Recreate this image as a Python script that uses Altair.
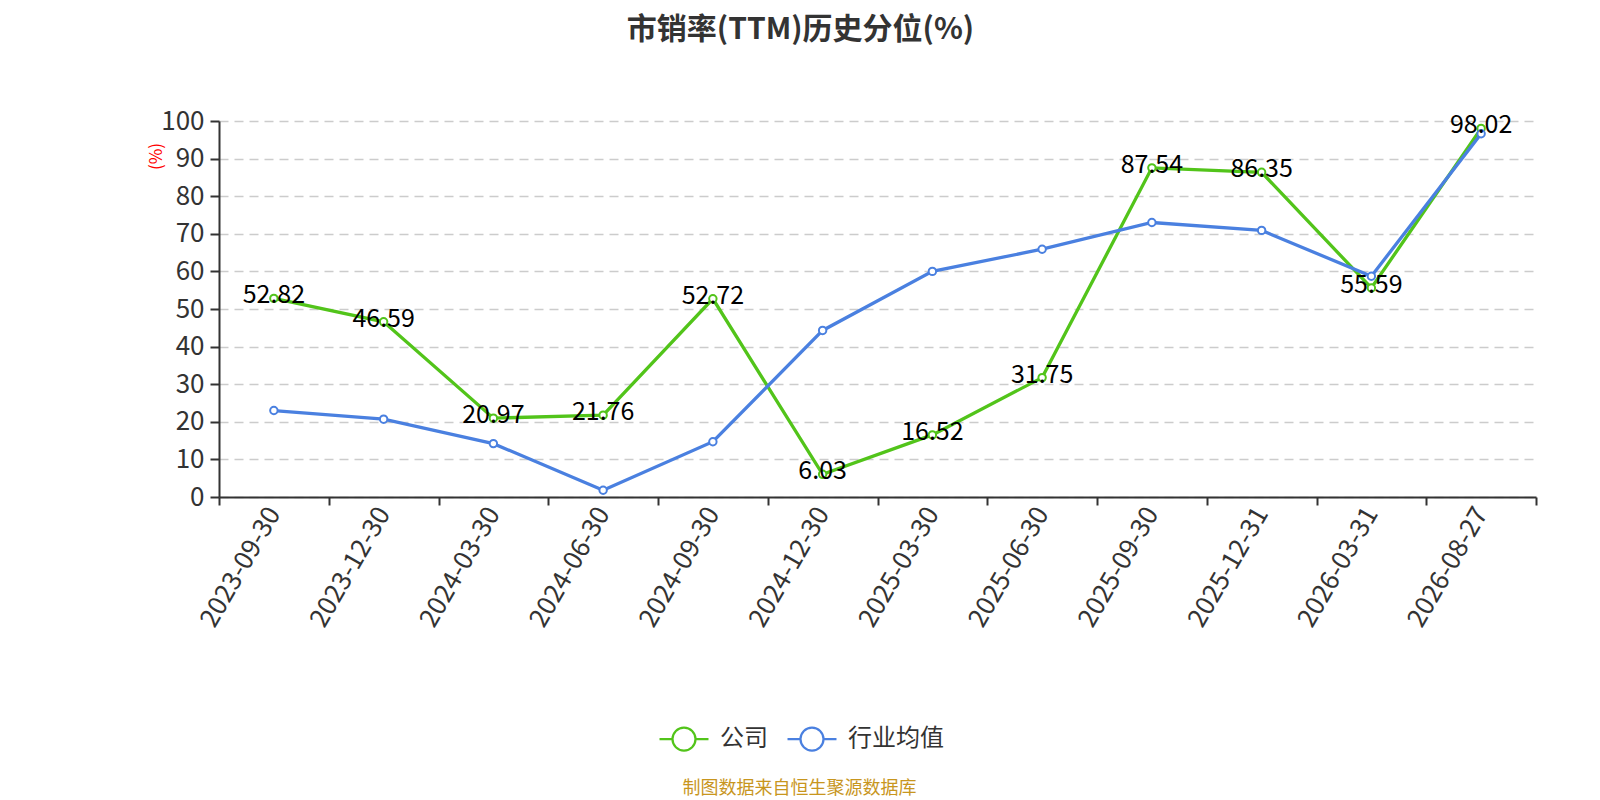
import altair as alt
import pandas as pd

dates = ["2023-09-30", "2023-12-30", "2024-03-30", "2024-06-30", "2024-09-30", "2024-12-30",
         "2025-03-30", "2025-06-30", "2025-09-30", "2025-12-31", "2026-03-31", "2026-08-27"]
company = [52.82, 46.59, 20.97, 21.76, 52.72, 6.03, 16.52, 31.75, 87.54, 86.35, 55.59, 98.02]
industry = [23.0, 20.7, 14.2, 1.8, 14.7, 44.3, 60.0, 65.9, 73.0, 70.9, 58.7, 96.6]
series_names = ["公司", "行业均值"]
colors = ["#52c41a", "#4a80e0"]

rows = []
for d, c, i in zip(dates, company, industry):
    rows.append({"date": d, "series": series_names[0], "value": c})
    rows.append({"date": d, "series": series_names[1], "value": i})
df = pd.DataFrame(rows)

FONT = "Noto Sans CJK SC"
W, H = 1317, 376

x = alt.X("date:O", sort=dates, bandPosition=0.5,
          scale=alt.Scale(type="band", paddingInner=0, paddingOuter=0),
          axis=alt.Axis(title="制图数据来自恒生聚源数据库", titleColor="#c8961e", titleFontSize=18,
                        titleFontWeight="normal", titleY=291, titleX=580, titleAlign="center",
                        titleBaseline="middle",
                        labelAngle=-60, labelFontSize=26, labelColor="#333333", labelAlign="right",
                        labelBaseline="middle", tickBand="extent", domainColor="#333333",
                        tickColor="#333333", tickSize=8, tickWidth=2, labelPadding=4, grid=False,
                        domainWidth=2))
y = alt.Y("value:Q", scale=alt.Scale(domain=[0, 100], nice=False),
          axis=alt.Axis(title="(%)", titleColor="red", titleFontSize=17, titleFontWeight="normal",
                        titleAngle=-90, titleX=-63, titleY=35, titleAlign="center",
                        titleBaseline="middle",
                        values=list(range(0, 101, 10)), labelFontSize=26, labelColor="#333333",
                        grid=True, gridDash=[9, 6], gridColor="#cccccc", gridWidth=1.5,
                        domainColor="#333333", tickColor="#333333", tickSize=9, tickWidth=2,
                        labelPadding=6, domainWidth=2))
color = alt.Color("series:N", sort=series_names,
                  scale=alt.Scale(domain=series_names, range=colors),
                  legend=alt.Legend(title=None, orient="none", legendX=439, legendY=592,
                                    direction="horizontal", labelFontSize=24, labelColor="#333333",
                                    symbolType="M-1,0L-0.47,0M0.47,0L1,0M0.47,0A0.47,0.47,0,1,1,-0.47,0A0.47,0.47,0,1,1,0.47,0",
                                    symbolSize=2400, symbolStrokeWidth=2.2, symbolFillColor="white",
                                    columnPadding=15, labelOffset=10))

base = alt.Chart(df)
lines = base.mark_line(strokeWidth=3.3).encode(x=x, y=y, color=color)
points = base.mark_point(shape="circle", filled=True, fill="white", size=55, strokeWidth=2,
                         opacity=1).encode(
    x=x, y=y,
    stroke=alt.Stroke("series:N", scale=alt.Scale(domain=series_names, range=colors), legend=None))
labels = base.transform_filter(alt.datum.series == "公司").mark_text(
    fontSize=25, color="black", baseline="middle", dy=-3, font=FONT
).encode(x=x, y=y, text=alt.Text("value:Q", format=".2f"))

chart = alt.layer(lines, points, labels).properties(
    width=W, height=H,
    title=alt.TitleParams("市销率(TTM)历史分位(%)", fontSize=30, fontWeight="bold", color="#333333",
                          anchor="middle", dx=-77, offset=63, font=FONT),
    autosize=alt.AutoSizeParams(type="none"),
    padding={"left": 211, "top": 113, "right": 56, "bottom": 300},
).configure(font=FONT).configure_view(stroke=None)

chart.save("out.html", embed_options={"renderer": "svg", "actions": False})
